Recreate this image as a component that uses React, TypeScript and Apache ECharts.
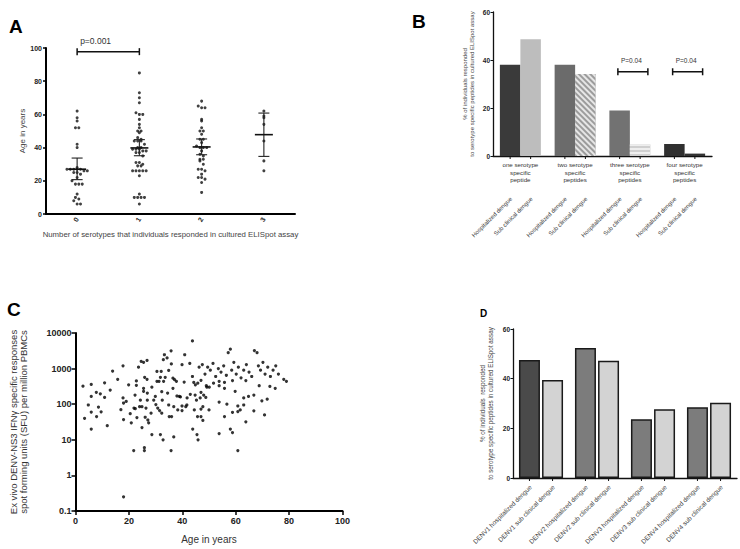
import React, { useEffect, useRef } from 'react';
import * as echarts from 'echarts';

const FONT = "'Liberation Sans', Arial, sans-serif";

// ---------- Panel A ----------
const aCategories = ['0', '1', '2', '3'];
const aResp0 = [62, 58, 56, 52, 52, 42, 40, 28, 27, 27, 27, 27, 27, 26, 26, 25, 25, 24, 22, 20, 18, 18, 18, 12, 10, 9, 8, 6, 6];
const aResp1 = [85, 73, 70, 67, 61, 60, 60, 57, 54, 52, 50, 50, 49, 46, 45, 44, 44, 44, 42, 40, 40, 39, 39, 39, 38, 38, 37, 37, 35, 31, 31, 30, 29, 29, 26, 26, 26, 26, 26, 23, 12, 10, 10, 10, 10, 6];
const aResp2 = [68, 65, 64, 64, 57, 56, 52, 50, 50, 48, 45, 45, 43, 41, 40, 40, 40, 38, 36, 35, 33, 33, 32, 30, 27, 27, 26, 24, 22, 22, 21, 19, 13];
const aResp3 = [62, 59, 58, 54, 44, 32, 26];
const aMean = [27, 39.8, 40.4, 47.8];
const aLow = [20.7, 35.1, 35.7, 34.7];
const aHigh = [33.7, 44.8, 45.2, 60.8];
const aBracketFrom = [0];
const aBracketTo = [1];
const aBracketY = [97.8];
const aBracketText = ['p=0.001'];

// ---------- Panel B ----------
const bGroups = ['one serotype\nspecific\npeptide', 'two serotype\nspecific\npeptides', 'three serotype\nspecific\npeptides', 'four serotype\nspecific\npeptides'];
const bHosp = [38, 38, 19, 5];
const bSub = [48.6, 34.2, 4.8, 1];
const bBarNames = ['Hospitalized dengue', 'Sub clinical dengue'];
const bBracketGroup = [2, 3];
const bBracketY = [35.1, 35.1];
const bBracketText = ['P=0.04', 'P=0.04'];

// ---------- Panel C ----------
const cAge = [2.8, 3.4, 4.8, 5.9, 5.9, 5.9, 5.9, 7.8, 7.9, 8.6, 9.3, 9.6, 10.9, 10.9, 11.9, 13.0, 13.9, 15.8, 17.0, 17.8,
  17.8, 18.0, 18.0, 18.0, 19.0, 19.9, 20.5, 20.9, 21.8, 21.9, 22.3, 22.4, 22.8, 22.8, 23.0, 23.6, 24.0, 24.3, 24.6, 24.9,
  24.9, 25.5, 25.5, 25.5, 25.8, 25.8, 25.9, 26.1, 26.4, 26.8, 26.8, 26.9, 26.9, 27.1, 27.4, 28.3, 28.6, 28.6, 29.3, 29.9,
  30.1, 30.5, 30.5, 30.8, 31.3, 31.5, 31.8, 31.8, 32.1, 32.3, 32.3, 32.5, 32.8, 32.9, 33.0, 33.3, 33.6, 34.3, 34.5, 34.9,
  34.9, 35.1, 35.8, 35.8, 35.9, 36.0, 36.5, 36.5, 36.8, 36.8, 37.1, 37.8, 38.0, 38.3, 38.9, 39.3, 39.9, 39.9, 39.9, 40.9,
  41.3, 41.8, 42.8, 43.0, 43.8, 43.8, 43.9, 44.3, 44.5, 44.9, 45.3, 45.5, 45.9, 46.3, 40.7, 45.8, 44.8, 45.7, 41.7,
  47.0, 49.0, 49.2, 50.1, 51.7, 53.8, 53.8, 55.8, 55.8, 58.8, 63.8, 68.8, 72.8, 74.8, 79.0,
  59.8, 47.0, 48.0, 48.8, 46.7, 63.0, 64.8, 66.8, 69.8, 71.8, 56.7, 53.8,
  47.0, 47.7, 50.0, 47.0, 47.7, 60.8, 63.0, 61.7, 60.8, 58.8, 55.8, 66.8, 70.8, 63.8, 53.8, 58.0, 58.8, 60.8,
  47.5, 48.5, 49.5, 50.5, 51.5, 52.5, 53.5, 54.5, 55.5, 56.5, 57.2, 58.0, 58.5, 59.3, 60.2, 61.0, 62.0, 63.0, 64.0, 65.0,
  66.0, 67.0, 68.0, 68.5, 69.3, 70.2, 71.0, 72.0, 73.0, 74.0, 75.0, 76.0, 78.0];
const cSfu = [320, 40, 95, 360, 165, 60, 20, 215, 45, 83, 195, 61, 400, 155, 25, 250, 850, 500, 70, 1200,
  150, 108, 37, 0.25, 120, 350, 54, 30, 5, 78, 180, 75, 450, 340, 42, 1100, 85, 130, 1600, 85,
  22, 1500, 280, 230, 6, 5, 570, 43, 78, 1700, 500, 205, 130, 36, 30, 56, 300, 14, 130, 165,
  98, 830, 440, 78, 440, 66, 14, 570, 830, 225, 56, 130, 10, 1780, 440, 2450, 570, 2000, 205, 890,
  95, 45, 3160, 5, 1350, 45, 540, 280, 85, 12, 490, 440, 170, 69, 165, 160, 1290, 89, 66, 2450,
  85, 150, 1400, 190, 6000, 600, 20, 410, 69, 350, 130, 14, 10, 1100, 420, 390, 180, 45, 95,
  470, 330, 300, 300, 390, 440, 330, 410, 280, 460, 460, 330, 315, 280, 440,
  230, 215, 180, 155, 150, 150, 165, 180, 124, 138, 100, 115,
  73, 85, 69, 45, 35, 89, 95, 69, 62, 59, 45, 65, 50, 32, 15, 20, 16, 5,
  1300, 700, 1100, 900, 1400, 600, 1000, 800, 1200, 650, 2800, 3500, 900, 1500, 700, 1100, 550, 900, 1300, 800,
  600, 3200, 2800, 1200, 900, 1500, 700, 1100, 600, 900, 1200, 700, 500];
const cTicksY = [0.1, 1, 10, 100, 1000, 10000];

// ---------- Panel D ----------
const dSerotypes = ['DENV1', 'DENV2', 'DENV3', 'DENV4'];
const dHosp = [47.5, 52.3, 23.7, 28.5];
const dSub = [39.5, 47.2, 27.7, 30.3];
const dBarNames = ['hospitalized dengue', 'sub clinical dengue'];

function swarmOffsets(vals: number[]): number[] {
  const counts: Record<number, number> = {};
  const used: Record<number, number> = {};
  vals.forEach(v => { const k = Math.round(v / 2.4); counts[k] = (counts[k] || 0) + 1; });
  return vals.map(v => {
    const k = Math.round(v / 2.4);
    const i = used[k] || 0;
    used[k] = i + 1;
    return (i - (counts[k] - 1) / 2) * 3.4;
  });
}

function buildOption(): any {
  const aGroups = [aResp0, aResp1, aResp2, aResp3];
  const aScatter: any[] = [];
  aGroups.forEach((vals, ci) => {
    const offs = swarmOffsets(vals);
    vals.forEach((v, j) => aScatter.push({ value: [ci, v], symbolOffset: [offs[j], 0] }));
  });

  const cData = cAge.map((a, i) => [a, cSfu[i]]);

  const bHospColors = ['#3a3a3a', '#6b6b6b', '#727272', '#303030'];
  const bSubColors = ['#bdbdbd', '#9c9c9c', '#cfcfcf', '#333333'];
  const bSubDecals: any[] = [null, { symbol: 'rect', symbolSize: 1, color: '#e6e6e6', dashArrayX: [1, 0], dashArrayY: [1.6, 1.6], rotation: Math.PI / 4 },
    { symbol: 'rect', symbolSize: 1, color: '#eeeeee', dashArrayX: [1, 0], dashArrayY: [1.5, 1.5], rotation: 0 }, null];

  const dHospColors = ['#4a4a4a', '#7c7c7c', '#7c7c7c', '#7c7c7c'];

  const axisTxt = { color: '#222', fontFamily: FONT };

  const bracketRender = (fromArr: number[], toArr: number[] | null, texts: string[], dxFrom: number, dxTo: number, textDx: number, textAlign: string, fs: number) =>
    (params: any, api: any) => {
      const i = params.dataIndex;
      const y = api.value(1);
      const p1 = api.coord([fromArr[i], y]);
      const p2 = toArr ? api.coord([toArr[i], y]) : p1;
      const x1 = p1[0] + dxFrom;
      const x2 = p2[0] + dxTo;
      const st = { stroke: '#111', lineWidth: 1.5 };
      const tx = textAlign === 'left' ? x1 + textDx : (x1 + x2) / 2 + textDx;
      return {
        type: 'group',
        children: [
          { type: 'line', shape: { x1, y1: p1[1], x2, y2: p1[1] }, style: st },
          { type: 'line', shape: { x1, y1: p1[1] - 3.5, x2: x1, y2: p1[1] + 3.5 }, style: st },
          { type: 'line', shape: { x1: x2, y1: p1[1] - 3.5, x2, y2: p1[1] + 3.5 }, style: st },
          { type: 'text', x: tx, y: p1[1] - 11, style: { text: texts[i], fontSize: fs, fontFamily: FONT, fill: '#333', align: textAlign, verticalAlign: 'middle' } },
        ],
      };
    };

  const barLabelRender = (names: (g: number, s: number) => string, half: number, textDy: number, fs: number) =>
    (params: any, api: any) => {
      const g = api.value(0);
      const s = api.value(2);
      const p = api.coord([g, 0]);
      const x = p[0] + s * half;
      return {
        type: 'group',
        children: [
          { type: 'line', shape: { x1: x, y1: p[1], x2: x, y2: p[1] + 3 }, style: { stroke: '#111', lineWidth: 1 } },
          { type: 'text', x: x + 1, y: p[1] + textDy, rotation: Math.PI / 4, style: { text: names(g, s), fontSize: fs, fontFamily: FONT, fill: '#444', align: 'right', verticalAlign: 'middle' } },
        ],
      };
    };

  const labelData: number[][] = [];
  [0, 1, 2, 3].forEach(g => { labelData.push([g, 0, -1]); labelData.push([g, 0, 1]); });

  return {
    animation: false,
    backgroundColor: '#ffffff',
    textStyle: { fontFamily: FONT },
    graphic: [
      { type: 'text', left: 9, top: 17, style: { text: 'A', fontSize: 19, fontWeight: 'bold', fontFamily: FONT, fill: '#000' } },
      { type: 'text', left: 412, top: 12, style: { text: 'B', fontSize: 19, fontWeight: 'bold', fontFamily: FONT, fill: '#000' } },
      { type: 'text', left: 7, top: 300, style: { text: 'C', fontSize: 19, fontWeight: 'bold', fontFamily: FONT, fill: '#000' } },
      { type: 'text', left: 480, top: 308, style: { text: 'D', fontSize: 10, fontWeight: 'bold', fontFamily: FONT, fill: '#000' } },
    ],
    grid: [
      { left: 46, top: 48, width: 249, height: 166 },
      { left: 493, top: 12, width: 219, height: 144 },
      { left: 75.5, top: 333, width: 267, height: 178 },
      { left: 513, top: 329, width: 224, height: 149 },
    ],
    xAxis: [
      {
        gridIndex: 0, type: 'category', data: aCategories,
        axisLine: { lineStyle: { color: '#000', width: 2 } },
        axisTick: { alignWithLabel: true, length: 3, lineStyle: { color: '#000', width: 1.5 } },
        axisLabel: { ...axisTxt, rotate: 60, fontSize: 7, fontWeight: 'bold', margin: 4 },
        name: 'Number of serotypes that individuals responded in cultured ELISpot assay',
        nameLocation: 'middle', nameGap: 16, nameTextStyle: { fontSize: 7.8, color: '#444', fontFamily: FONT },
      },
      {
        gridIndex: 1, type: 'category', data: bGroups,
        axisLine: { lineStyle: { color: '#111', width: 1.3 } },
        axisTick: { show: false },
        axisLabel: { ...axisTxt, color: '#333', fontSize: 6.2, lineHeight: 7.4, margin: 5, interval: 0 },
      },
      {
        gridIndex: 2, type: 'value', min: 0, max: 100, interval: 20,
        axisLine: { show: true, lineStyle: { color: '#000', width: 2 } },
        axisTick: { show: true, length: 4, lineStyle: { color: '#000', width: 1.5 } },
        axisLabel: { ...axisTxt, fontSize: 9, fontWeight: 'bold', margin: 5 },
        splitLine: { show: false },
        name: 'Age in years', nameLocation: 'middle', nameGap: 23, nameTextStyle: { fontSize: 10, color: '#333', fontFamily: FONT },
      },
      {
        gridIndex: 3, type: 'category', data: dSerotypes,
        axisLine: { lineStyle: { color: '#111', width: 1.3 } },
        axisTick: { show: false }, axisLabel: { show: false },
      },
    ],
    yAxis: [
      {
        gridIndex: 0, type: 'value', min: 0, max: 100, interval: 20,
        axisLine: { show: true, lineStyle: { color: '#000', width: 2 } },
        axisTick: { show: true, length: 3, lineStyle: { color: '#000', width: 1.5 } },
        axisLabel: { ...axisTxt, fontSize: 7, fontWeight: 'bold', margin: 4 },
        splitLine: { show: false },
        name: 'Age in years', nameLocation: 'middle', nameGap: 18, nameTextStyle: { fontSize: 8, color: '#444', fontFamily: FONT },
      },
      {
        gridIndex: 1, type: 'value', min: 0, max: 60, interval: 20,
        axisLine: { show: true, lineStyle: { color: '#111', width: 1.3 } },
        axisTick: { show: true, length: 2.5, lineStyle: { color: '#111', width: 1 } },
        axisLabel: { ...axisTxt, fontSize: 6.5, fontWeight: 'bold', margin: 3 },
        splitLine: { show: false },
        name: '% of individuals responded\nto serotype specific peptides in cultured ELISpot assay',
        nameLocation: 'middle', nameGap: 18, nameTextStyle: { fontSize: 6, lineHeight: 7, color: '#444', fontFamily: FONT },
      },
      {
        gridIndex: 2, type: 'log', logBase: 10, min: 0.1, max: 10000,
        axisLine: { show: true, lineStyle: { color: '#000', width: 2 } },
        axisTick: { show: true, length: 4, lineStyle: { color: '#000', width: 1.5 } },
        axisLabel: { ...axisTxt, fontSize: 9, fontWeight: 'bold', margin: 4, formatter: (v: number) => {
          const n = cTicksY.find(t => Math.abs(Math.log10(t) - Math.log10(v)) < 1e-6);
          return n !== undefined ? String(n) : '';
        } },
        splitLine: { show: false }, minorTick: { show: false },
        name: 'Ex vivo DENV-NS3 IFNγ specific responses\nspot forming units (SFU) per million PBMCs',
        nameLocation: 'middle', nameGap: 47, nameTextStyle: { fontSize: 9.5, lineHeight: 10, color: '#333', fontFamily: FONT },
      },
      {
        gridIndex: 3, type: 'value', min: 0, max: 60, interval: 20,
        axisLine: { show: true, lineStyle: { color: '#111', width: 1.3 } },
        axisTick: { show: true, length: 2.5, lineStyle: { color: '#111', width: 1 } },
        axisLabel: { ...axisTxt, fontSize: 6.5, fontWeight: 'bold', margin: 3 },
        splitLine: { show: false },
        name: '% of individuals  responded\nto serotype specific peptides in cultured ELISpot assay',
        nameLocation: 'middle', nameGap: 19, nameTextStyle: { fontSize: 6.3, lineHeight: 7.5, color: '#444', fontFamily: FONT },
      },
    ],
    series: [
      // A
      {
        type: 'scatter', xAxisIndex: 0, yAxisIndex: 0, data: aScatter,
        symbol: 'circle', symbolSize: 3, itemStyle: { color: '#111' }, z: 2,
      },
      {
        type: 'custom', xAxisIndex: 0, yAxisIndex: 0, z: 3,
        data: aMean.map((m, i) => [i, m, aLow[i], aHigh[i]]),
        encode: { x: 0, y: [1, 2, 3] },
        renderItem: (params: any, api: any) => {
          const c = api.value(0);
          const pm = api.coord([c, api.value(1)]);
          const pl = api.coord([c, api.value(2)]);
          const ph = api.coord([c, api.value(3)]);
          const st = { stroke: '#222', lineWidth: 1.1 };
          return {
            type: 'group',
            children: [
              { type: 'line', shape: { x1: pl[0], y1: pl[1], x2: ph[0], y2: ph[1] }, style: st },
              { type: 'line', shape: { x1: pl[0] - 5.5, y1: pl[1], x2: pl[0] + 5.5, y2: pl[1] }, style: st },
              { type: 'line', shape: { x1: ph[0] - 5.5, y1: ph[1], x2: ph[0] + 5.5, y2: ph[1] }, style: st },
              { type: 'line', shape: { x1: pm[0] - 9, y1: pm[1], x2: pm[0] + 9, y2: pm[1] }, style: { stroke: '#111', lineWidth: 1.6 } },
            ],
          };
        },
      },
      {
        type: 'custom', xAxisIndex: 0, yAxisIndex: 0, z: 3,
        data: aBracketY.map((y, i) => [aBracketFrom[i], y]),
        encode: { x: 0, y: 1 },
        renderItem: bracketRender(aBracketFrom, aBracketTo, aBracketText, 0, 0, 3, 'left', 8.5),
      },
      // B
      {
        type: 'bar', xAxisIndex: 1, yAxisIndex: 1, barWidth: 20.5, barGap: '0%',
        data: bHosp.map((v, i) => ({ value: v, itemStyle: { color: bHospColors[i] } })),
      },
      {
        type: 'bar', xAxisIndex: 1, yAxisIndex: 1, barWidth: 20.5, barGap: '0%',
        data: bSub.map((v, i) => ({ value: v, itemStyle: bSubDecals[i] ? { color: bSubColors[i], decal: bSubDecals[i] } : { color: bSubColors[i] } })),
      },
      {
        type: 'custom', xAxisIndex: 1, yAxisIndex: 1, z: 3,
        data: labelData, encode: { x: 0, y: 1 },
        renderItem: barLabelRender((g, s) => bBarNames[s < 0 ? 0 : 1], 10.25, 42, 6),
      },
      {
        type: 'custom', xAxisIndex: 1, yAxisIndex: 1, z: 3,
        data: bBracketY.map((y, i) => [bBracketGroup[i], y]),
        encode: { x: 0, y: 1 },
        renderItem: bracketRender(bBracketGroup, null, bBracketText, -12, 18, -1.5, 'center', 6.5),
      },
      // C
      {
        type: 'scatter', xAxisIndex: 2, yAxisIndex: 2, data: cData,
        symbol: 'circle', symbolSize: 3.2, itemStyle: { color: '#000' },
      },
      // D
      {
        type: 'bar', xAxisIndex: 3, yAxisIndex: 3, barWidth: 21, barGap: '10%',
        data: dHosp.map((v, i) => ({ value: v, itemStyle: { color: dHospColors[i] } })),
        itemStyle: { borderColor: '#1a1a1a', borderWidth: 1.5 },
      },
      {
        type: 'bar', xAxisIndex: 3, yAxisIndex: 3, barWidth: 21, barGap: '10%',
        data: dSub, itemStyle: { color: '#d3d3d3', borderColor: '#1a1a1a', borderWidth: 1.5 },
      },
      {
        type: 'custom', xAxisIndex: 3, yAxisIndex: 3, z: 3,
        data: labelData, encode: { x: 0, y: 1 },
        renderItem: barLabelRender((g, s) => dSerotypes[g] + ' ' + dBarNames[s < 0 ? 0 : 1], 11.55, 8, 6.4),
      },
    ],
  };
}

export default function App() {
  const ref = useRef<HTMLDivElement>(null);
  useEffect(() => {
    if (!ref.current) return;
    const chart = echarts.init(ref.current, undefined, { renderer: 'svg' });
    chart.setOption(buildOption());
    return () => chart.dispose();
  }, []);
  return (
    <div
      ref={ref}
      style={{ position: 'absolute', left: 0, top: 0, width: 740, height: 549, background: '#fff' }}
    />
  );
}
